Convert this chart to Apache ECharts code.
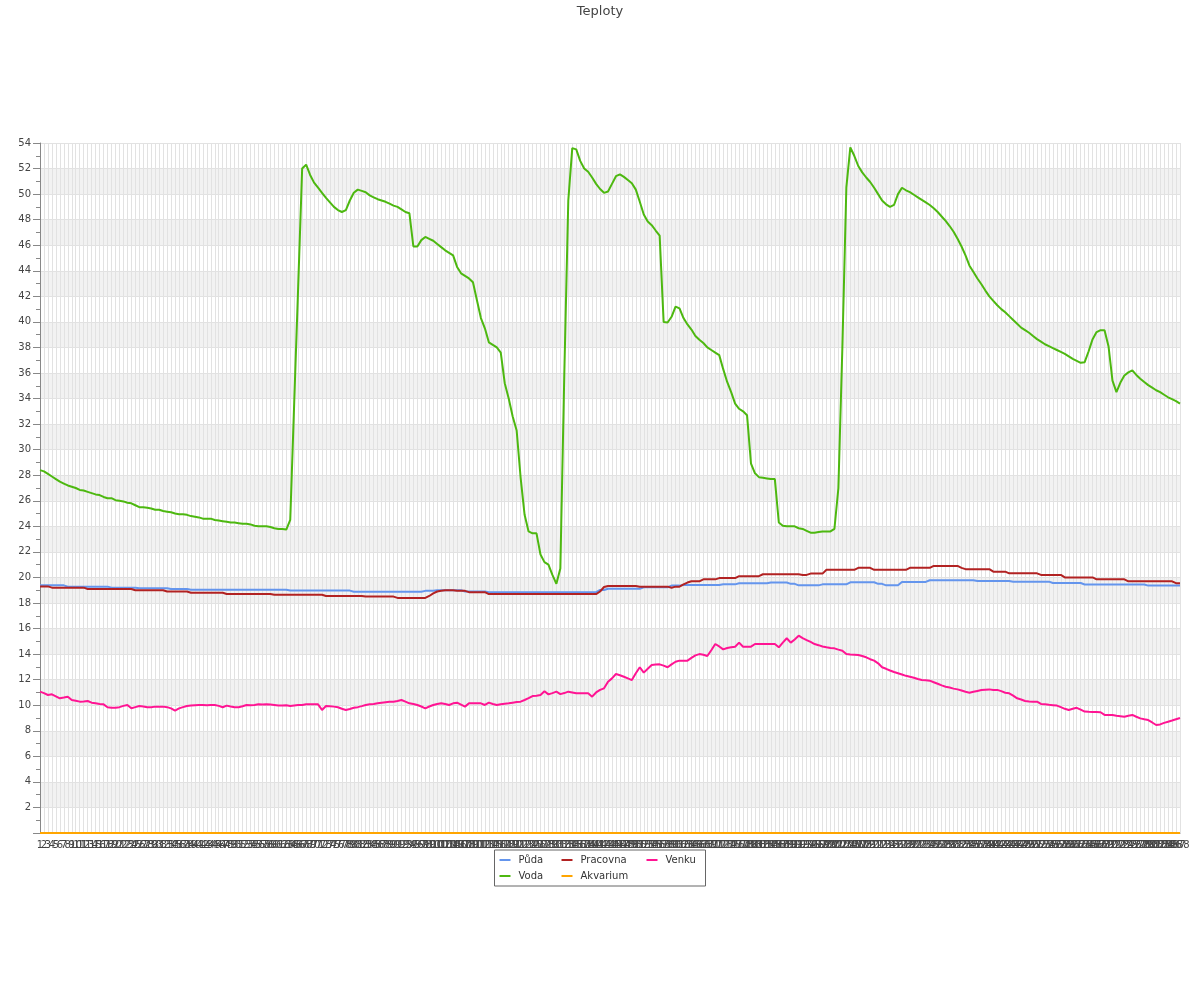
<!DOCTYPE html>
<html>
<head>
<meta charset="utf-8">
<script src="https://cdn.jsdelivr.net/npm/echarts@6/dist/echarts.min.js"></script>
<style>html,body{margin:0;padding:0;background:#fff}#chart{width:1200px;height:1000px}</style>
</head>
<body>
<div id="chart"></div>
<script>
const categories = [
1,2,3,4,5,6,7,8,9,10,11,12,13,14,15,16,17,18,19,20,21,22,23,24,25,26,27,28,29,30,
31,32,33,34,35,36,37,38,39,40,41,42,43,44,45,46,47,48,49,50,51,52,53,54,55,56,57,58,59,60,
61,62,63,64,65,66,67,68,69,70,71,72,73,74,75,76,77,78,79,80,81,82,83,84,85,86,87,88,89,90,
91,92,93,94,95,96,97,98,99,100,101,102,103,104,105,106,107,108,109,110,111,112,113,114,115,116,117,118,119,120,
121,122,123,124,125,126,127,128,129,130,131,132,133,134,135,136,137,138,139,140,141,142,143,144,145,146,147,148,149,150,
151,152,153,154,155,156,157,158,159,160,161,162,163,164,165,166,167,168,169,170,171,172,173,174,175,176,177,178,179,180,
181,182,183,184,185,186,187,188,189,190,191,192,193,194,195,196,197,198,199,200,201,202,203,204,205,206,207,208,209,210,
211,212,213,214,215,216,217,218,219,220,221,222,223,224,225,226,227,228,229,230,231,232,233,234,235,236,237,238,239,240,
241,242,243,244,245,246,247,248,249,250,251,252,253,254,255,256,257,258,259,260,261,262,263,264,265,266,267,268,269,270,
271,272,273,274,275,276,277,278,279,280,281,282,283,284,285,286,287,288
];

const puda = [
19.38,19.38,19.38,19.38,19.38,19.38,19.38,
19.28,19.28,19.28,19.28,19.28,19.28,19.28,19.28,19.28,19.28,19.28,
19.2,19.2,19.2,19.2,19.2,19.2,19.2,
19.15,19.15,19.15,19.15,19.15,19.15,19.15,19.15,
19.1,19.1,19.1,19.1,19.1,
19.03,19.03,19.03,19.03,19.03,19.03,19.03,19.03,19.03,19.03,19.03,19.03,19.03,19.03,19.03,19.03,19.03,19.03,19.03,19.03,19.03,19.03,19.03,19.03,19.03,
18.97,18.97,18.97,18.97,18.97,18.97,18.97,18.97,18.97,18.97,18.97,18.97,18.97,18.97,18.97,18.97,
18.88,18.88,18.88,18.88,18.88,18.88,18.88,18.88,18.88,18.88,18.88,18.88,18.88,18.88,18.88,18.88,18.88,18.88,
18.95,18.95,18.95,
19.0,19.0,19.0,19.0,19.0,19.0,19.0,
18.9,18.9,18.9,18.9,18.9,18.9,
18.85,18.85,18.85,18.85,18.85,18.85,18.85,18.85,18.85,18.85,18.85,18.85,18.85,18.85,18.85,18.85,18.85,18.85,18.85,18.85,18.85,18.85,18.85,18.85,18.85,18.85,18.85,18.85,
19.02,19.02,
19.12,19.12,19.12,19.12,19.12,19.12,19.12,19.12,19.12,
19.23,19.23,19.23,19.23,19.23,19.23,19.23,
19.36,19.36,19.36,
19.41,19.41,19.41,19.41,19.41,19.41,19.41,19.41,19.41,19.41,
19.46,19.46,19.46,19.46,
19.54,19.54,19.54,19.54,19.54,19.54,19.54,19.54,
19.6,19.6,19.6,19.6,19.6,
19.5,19.5,
19.38,19.38,19.38,19.38,19.38,19.38,
19.46,19.46,19.46,19.46,19.46,19.46,19.46,
19.62,19.62,19.62,19.62,19.62,19.62,19.62,
19.5,19.5,
19.38,19.38,19.38,19.38,
19.65,19.65,19.65,19.65,19.65,19.65,19.65,
19.78,19.78,19.78,19.78,19.78,19.78,19.78,19.78,19.78,19.78,19.78,19.78,
19.72,19.72,19.72,19.72,19.72,19.72,19.72,19.72,19.72,
19.67,19.67,19.67,19.67,19.67,19.67,19.67,19.67,19.67,19.67,
19.56,19.56,19.56,19.56,19.56,19.56,19.56,19.56,
19.45,19.45,19.45,19.45,19.45,19.45,19.45,19.45,19.45,19.45,19.45,19.45,19.45,19.45,19.45,19.45,
19.36,19.36,19.36,19.36,19.36,19.36,19.36,19.36,19.36
];

const voda = [
28.4,28.3,28.1,27.9,27.7,27.5,27.35,27.2,27.1,27.0,
26.85,26.8,26.7,26.6,26.5,26.45,26.3,26.2,26.2,26.05,
26.0,25.95,25.85,25.8,25.65,25.5,25.5,25.45,25.4,25.3,
25.3,25.2,25.15,25.1,25.0,24.95,24.95,24.9,24.8,24.75,
24.7,24.6,24.6,24.6,24.5,24.45,24.4,24.35,24.3,24.3,
24.25,24.2,24.2,24.15,24.05,24.0,24.0,24.0,23.95,23.85,
23.8,23.8,23.75,24.5,33.7,42.8,52.0,52.3,51.5,50.9,
50.5,50.1,49.7,49.35,49.0,48.75,48.6,48.75,49.5,50.1,
50.35,50.25,50.15,49.9,49.75,49.6,49.5,49.4,49.25,49.1,
49.0,48.8,48.6,48.5,45.9,45.9,46.4,46.65,46.5,46.35,
46.1,45.85,45.6,45.4,45.2,44.3,43.8,43.6,43.4,43.1,
41.7,40.3,39.5,38.4,38.2,38.0,37.6,35.2,34.0,32.6,
31.5,27.8,24.9,23.6,23.45,23.45,21.8,21.2,21.0,20.2,
19.5,20.7,36.0,49.5,53.6,53.5,52.6,52.0,51.75,51.3,
50.8,50.4,50.1,50.2,50.8,51.4,51.55,51.35,51.1,50.85,
50.35,49.4,48.4,47.85,47.57,47.15,46.75,40.0,39.95,40.4,
41.2,41.05,40.3,39.8,39.4,38.9,38.6,38.35,38.0,37.8,
37.6,37.4,36.3,35.3,34.5,33.6,33.2,33.0,32.7,28.9,
28.15,27.85,27.8,27.75,27.7,27.7,24.3,24.05,24.0,24.0,
24.0,23.85,23.8,23.65,23.5,23.5,23.55,23.6,23.6,23.6,
23.8,27.0,38.0,50.5,53.65,53.0,52.2,51.7,51.3,50.95,
50.5,50.0,49.5,49.2,49.0,49.15,50.0,50.5,50.3,50.15,
49.95,49.75,49.55,49.35,49.15,48.9,48.6,48.25,47.9,47.5,
47.05,46.5,45.9,45.2,44.4,43.9,43.4,42.95,42.45,42.0,
41.65,41.3,41.0,40.75,40.45,40.15,39.85,39.55,39.35,39.15,
38.9,38.65,38.45,38.25,38.1,37.95,37.8,37.65,37.5,37.3,
37.1,36.95,36.8,36.85,37.7,38.65,39.2,39.35,39.35,38.1,
35.4,34.5,35.25,35.8,36.05,36.2,35.85,35.55,35.3,35.05,
34.85,34.65,34.5,34.3,34.1,33.95,33.8,33.6
];

const pracovna = [
19.3,19.3,19.3,
19.2,19.2,19.2,19.2,19.2,19.2,19.2,19.2,19.2,
19.1,19.1,19.1,19.1,19.1,19.1,19.1,19.1,19.1,19.1,19.1,19.1,
19.0,19.0,19.0,19.0,19.0,19.0,19.0,19.0,
18.9,18.9,18.9,18.9,18.9,18.9,
18.8,18.8,18.8,18.8,18.8,18.8,18.8,18.8,18.8,
18.7,18.7,18.7,18.7,18.7,18.7,18.7,18.7,18.7,18.7,18.7,18.7,
18.65,18.65,18.65,18.65,18.65,18.65,18.65,18.65,18.65,18.65,18.65,18.65,18.65,
18.55,18.55,18.55,18.55,18.55,18.55,18.55,18.55,18.55,18.55,
18.5,18.5,18.5,18.5,18.5,18.5,18.5,18.5,
18.4,18.4,18.4,18.4,18.4,18.4,18.4,18.4,
18.55,18.75,18.9,18.95,19.0,19.0,19.0,18.95,18.95,18.95,
18.85,18.85,18.85,18.85,18.85,
18.7,18.7,18.7,18.7,18.7,18.7,18.7,18.7,18.7,18.7,18.7,18.7,18.7,18.7,18.7,18.7,18.7,18.7,18.7,18.7,18.7,18.7,18.7,18.7,18.7,18.7,18.7,18.7,
18.9,19.25,
19.33,19.33,19.33,19.33,19.33,19.33,19.33,19.33,
19.28,19.28,19.28,19.28,19.28,19.28,19.28,19.28,
19.2,19.28,19.28,19.45,19.6,19.7,19.7,19.7,
19.85,19.85,19.85,19.85,
19.95,19.95,19.95,19.95,19.95,
20.1,20.1,20.1,20.1,20.1,20.1,
20.25,20.25,20.25,20.25,20.25,20.25,20.25,20.25,20.25,20.25,
20.2,20.2,
20.3,20.3,20.3,20.3,
20.6,20.6,20.6,20.6,20.6,20.6,20.6,20.6,
20.75,20.75,20.75,20.75,
20.6,20.6,20.6,20.6,20.6,20.6,20.6,20.6,20.6,
20.75,20.75,20.75,20.75,20.75,20.75,
20.9,20.9,20.9,20.9,20.9,20.9,20.9,
20.75,
20.65,20.65,20.65,20.65,20.65,20.65,20.65,
20.45,20.45,20.45,20.45,
20.32,20.32,20.32,20.32,20.32,20.32,20.32,20.32,
20.2,20.2,20.2,20.2,20.2,20.2,
20.0,20.0,20.0,20.0,20.0,20.0,20.0,20.0,
19.85,19.85,19.85,19.85,19.85,19.85,19.85,19.85,
19.7,19.7,19.7,19.7,19.7,19.7,19.7,19.7,19.7,19.7,19.7,19.7,
19.55,19.55
];

const akvarium = [
0,0,0,0,0,0,0,0,0,0, 0,0,0,0,0,0,0,0,0,0, 0,0,0,0,0,0,0,0,0,0,
0,0,0,0,0,0,0,0,0,0, 0,0,0,0,0,0,0,0,0,0, 0,0,0,0,0,0,0,0,0,0,
0,0,0,0,0,0,0,0,0,0, 0,0,0,0,0,0,0,0,0,0, 0,0,0,0,0,0,0,0,0,0,
0,0,0,0,0,0,0,0,0,0, 0,0,0,0,0,0,0,0,0,0, 0,0,0,0,0,0,0,0,0,0,
0,0,0,0,0,0,0,0,0,0, 0,0,0,0,0,0,0,0,0,0, 0,0,0,0,0,0,0,0,0,0,
0,0,0,0,0,0,0,0,0,0, 0,0,0,0,0,0,0,0,0,0, 0,0,0,0,0,0,0,0,0,0,
0,0,0,0,0,0,0,0,0,0, 0,0,0,0,0,0,0,0,0,0, 0,0,0,0,0,0,0,0,0,0,
0,0,0,0,0,0,0,0,0,0, 0,0,0,0,0,0,0,0,0,0, 0,0,0,0,0,0,0,0,0,0,
0,0,0,0,0,0,0,0,0,0, 0,0,0,0,0,0,0,0,0,0, 0,0,0,0,0,0,0,0,0,0,
0,0,0,0,0,0,0,0,0,0, 0,0,0,0,0,0,0,0
];

const venku = [
11.06,10.95,10.8,10.85,10.7,10.54,10.6,10.67,10.4,10.35,
10.28,10.3,10.33,10.2,10.15,10.1,10.07,9.84,9.8,9.8,
9.85,9.95,10.02,9.76,9.85,9.94,9.9,9.84,9.85,9.89,
9.89,9.89,9.85,9.75,9.58,9.75,9.85,9.94,9.97,10.0,
10.02,10.02,10.0,10.02,10.02,9.95,9.84,9.97,9.9,9.85,
9.84,9.92,10.02,10.0,10.02,10.07,10.05,10.07,10.05,10.02,
9.97,9.97,9.99,9.94,9.98,10.02,10.02,10.07,10.07,10.07,
10.07,9.63,9.94,9.92,9.89,9.84,9.72,9.63,9.7,9.8,
9.85,9.93,10.02,10.07,10.1,10.15,10.2,10.24,10.28,10.28,
10.33,10.41,10.28,10.15,10.1,10.02,9.9,9.76,9.9,10.02,
10.1,10.15,10.1,10.02,10.15,10.2,10.05,9.89,10.15,10.15,
10.15,10.15,10.02,10.2,10.1,10.02,10.08,10.12,10.15,10.2,
10.25,10.28,10.41,10.55,10.72,10.75,10.8,11.1,10.85,10.95,
11.06,10.87,10.95,11.06,11.0,10.93,10.93,10.93,10.93,10.67,
11.0,11.2,11.32,11.84,12.1,12.44,12.35,12.23,12.1,11.97,
12.5,12.97,12.55,12.85,13.15,13.18,13.2,13.1,12.97,13.2,
13.4,13.49,13.49,13.49,13.7,13.9,14.0,13.95,13.85,14.3,
14.79,14.6,14.37,14.48,14.53,14.58,14.9,14.58,14.58,14.58,
14.79,14.79,14.79,14.79,14.79,14.79,14.53,14.9,15.24,14.9,
15.15,15.44,15.25,15.1,14.95,14.79,14.7,14.6,14.53,14.48,
14.45,14.35,14.27,14.0,13.97,13.95,13.93,13.85,13.75,13.6,
13.49,13.28,12.97,12.85,12.72,12.6,12.5,12.4,12.3,12.23,
12.15,12.05,11.97,11.95,11.92,11.8,11.68,11.55,11.45,11.38,
11.3,11.24,11.15,11.05,10.98,11.05,11.12,11.19,11.22,11.24,
11.19,11.2,11.1,10.98,10.93,10.75,10.54,10.45,10.33,10.3,
10.28,10.28,10.1,10.07,10.03,10.0,9.97,9.85,9.72,9.63,
9.72,9.8,9.65,9.5,9.48,9.47,9.46,9.45,9.24,9.24,
9.24,9.18,9.14,9.1,9.18,9.24,9.1,8.97,8.9,8.84,
8.65,8.45,8.5,8.62,8.71,8.8,8.9,9.0
];

const legendOrder = ['Půda', 'Pracovna', 'Venku', 'Voda', 'Akvarium'];
const legendColumn = { 'Půda': 'c1', 'Voda': 'c1', 'Pracovna': 'c2', 'Akvarium': 'c2', 'Venku': 'c3' };
const colors = { 'Půda': '#6495ED', 'Voda': '#4DB810', 'Pracovna': '#B22222', 'Akvarium': '#FFA500', 'Venku': '#FF1493' };

function lineSeries(name, data) {
  return {
    name: name, type: 'line', data: data, symbol: 'none', showSymbol: false,
    lineStyle: { width: 2, color: colors[name] }, itemStyle: { color: colors[name] },
    emphasis: { disabled: true }
  };
}

const legendText = { fontSize: 10, color: '#333', lineHeight: 10, padding: [2, 0, 2, 3] };

const chart = echarts.init(document.getElementById('chart'), null, { renderer: 'canvas' });
chart.setOption({
  animation: false,
  backgroundColor: '#ffffff',
  textStyle: { fontFamily: 'DejaVu Sans, sans-serif' },
  title: {
    text: 'Teploty', left: 'center', top: 0,
    textStyle: { fontSize: 13, fontWeight: 'normal', color: '#444' }
  },
  legend: {
    data: legendOrder,
    top: 850, left: 'center', width: 201,
    orient: 'horizontal',
    padding: [3, 5, 3, 5],
    itemGap: 2,
    itemWidth: 11, itemHeight: 2,
    icon: 'rect',
    borderColor: '#666', borderWidth: 1,
    formatter: function (name) { return '{' + legendColumn[name] + '|' + name + '}'; },
    textStyle: {
      fontSize: 10, color: '#333',
      rich: {
        c1: Object.assign({ width: 41 }, legendText),
        c2: Object.assign({ width: 64 }, legendText),
        c3: Object.assign({ width: 35 }, legendText)
      }
    }
  },
  grid: { left: 40, right: 20, top: 143, bottom: 167, containLabel: false },
  xAxis: {
    type: 'category', boundaryGap: false, data: categories,
    axisLine: { lineStyle: { color: '#888' } },
    axisTick: { show: false },
    axisLabel: { interval: 0, fontSize: 10, color: '#444', margin: 7, hideOverlap: false },
    splitLine: { show: true, interval: 0, lineStyle: { color: '#e2e2e2', width: 1 } }
  },
  yAxis: {
    type: 'value', min: 0, max: 54, interval: 2,
    axisLine: { show: true, lineStyle: { color: '#888' } },
    axisTick: { show: true, length: 7, lineStyle: { color: '#888' } },
    minorTick: { show: true, splitNumber: 2, length: 4, lineStyle: { color: '#888' } },
    axisLabel: { showMinLabel: false, fontSize: 10, color: '#444', margin: 9 },
    splitLine: { show: true, lineStyle: { color: '#e2e2e2' } },
    splitArea: { show: true, areaStyle: { color: ['#ffffff', '#f2f2f2'] } }
  },
  series: [
    lineSeries('Půda', puda),
    lineSeries('Voda', voda),
    lineSeries('Pracovna', pracovna),
    lineSeries('Akvarium', akvarium),
    lineSeries('Venku', venku)
  ]
});
</script>
</body>
</html>
